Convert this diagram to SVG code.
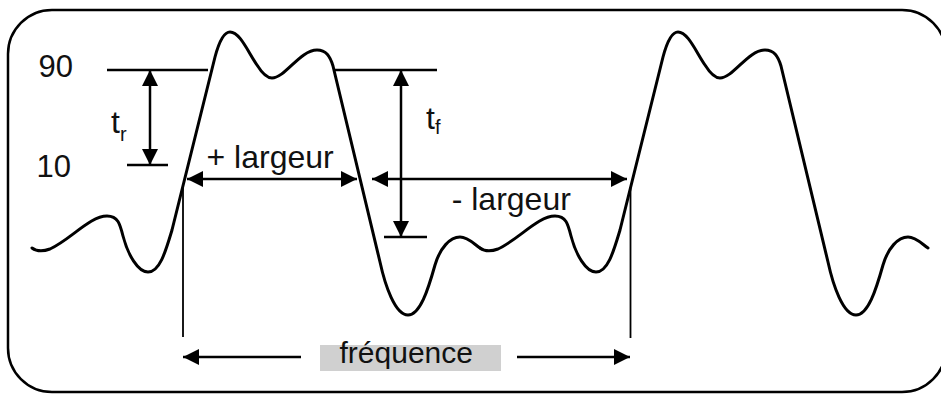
<svg xmlns="http://www.w3.org/2000/svg" xmlns:xlink="http://www.w3.org/1999/xlink" width="941" height="394" viewBox="0 0 941 394">
<style>
.frame{fill:#fff;stroke:#000;stroke-width:2.5}
.wave{fill:none;stroke:#000;stroke-width:3;stroke-linejoin:round;stroke-linecap:round}
.lvl{fill:none;stroke:#000;stroke-width:2.5}
.arr{fill:none;stroke:#000;stroke-width:2.5;marker-end:url(#ah);marker-start:url(#ah)}
.one{fill:none;stroke:#000;stroke-width:2.5;marker-end:url(#ah)}
.thin{fill:none;stroke:#000;stroke-width:1.8}
.t{font-family:"Liberation Sans",Arial,sans-serif;font-size:32px;fill:#111}
.s{font-size:20px}
</style>
<defs>
<marker id="ah" viewBox="0 0 16 16" refX="16" refY="8" markerWidth="16" markerHeight="16" markerUnits="userSpaceOnUse" orient="auto-start-reverse">
<path d="M0,0 L16,8 L0,16 z" fill="#000"/>
</marker>
<path id="period" d="M32,248 C36,251 42,252 50,249 C70,240 90,216 107,216 C118,216 120,224 123,236 C128,255 138,272 148,272 C160,272 166,250 172,230 L215,57 C219,42 224,32 230,32 C240,32 248,52 257,65 C262,73 267,78 272,78 C285,78 300,50 317,50 C326,50 330,56 333,66 L380,262 C385,285 395,315 408,315 C420,315 428,290 435,265 C440,248 450,237 460,237 C468,237 474,244 480,248"/>
</defs>
<g id="frame"><rect class="frame" x="8" y="10" width="938" height="382" rx="44" ry="44"/></g>
<g id="waveform" class="wave">
<use xlink:href="#period"/>
<use xlink:href="#period" transform="translate(448,0)"/>
</g>
<g id="levels" class="lvl">
<line x1="107" y1="70" x2="208" y2="70"/>
<line x1="334" y1="70" x2="437" y2="70"/>
<line x1="127" y1="165" x2="168" y2="165"/>
<line x1="384" y1="237" x2="427" y2="237"/>
<line class="thin" x1="183" y1="188" x2="183" y2="337"/>
<line class="thin" x1="630.5" y1="187" x2="630.5" y2="338"/>
</g>
<rect id="freq-bg" x="320" y="345" width="181" height="26" fill="#d0d0d0"/>
<g id="connectors">
<line class="arr" x1="150" y1="70" x2="150" y2="165"/>
<line class="arr" x1="401" y1="70" x2="401" y2="237"/>
<line class="arr" x1="187" y1="179" x2="357" y2="179"/>
<line class="arr" x1="372" y1="179" x2="627" y2="179"/>
<line class="one" x1="301" y1="357" x2="183" y2="357"/>
<line class="one" x1="517" y1="357" x2="630" y2="357"/>
</g>
<g id="labels" class="t">
<text x="38.5" y="77" font-size="31">90</text>
<text x="36.5" y="177" font-size="31">10</text>
<text x="111" y="133">t<tspan class="s" dy="8">r</tspan></text>
<text x="426" y="129">t<tspan class="s" dy="5">f</tspan></text>
<text x="206.5" y="168">+ largeur</text>
<text x="451.7" y="210">- largeur</text>
<text x="339.5" y="363" font-size="30">fréquence</text>
</g>
</svg>
